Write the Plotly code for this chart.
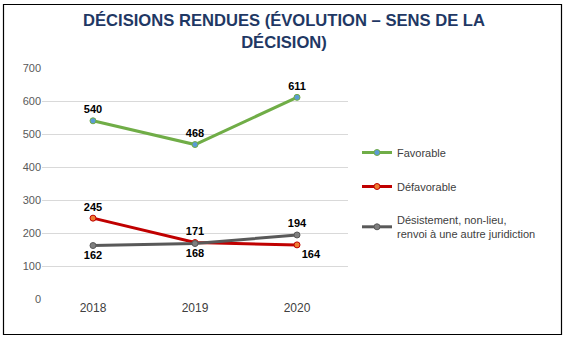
import plotly.graph_objects as go

years = ["2018", "2019", "2020"]
favorable = [540, 468, 611]
defavorable = [245, 171, 164]
desistement = [162, 168, 194]
names = ["Favorable", "Défavorable", "Désistement, non-lieu,<br>renvoi à une autre juridiction"]
title = "DÉCISIONS RENDUES (ÉVOLUTION – SENS DE LA<br>DÉCISION)"
yticks = [0, 100, 200, 300, 400, 500, 600, 700]

W, H = 566, 339
ml, mr, mt, mb = 42, 218, 68, 40

fig = go.Figure()
lab_font = dict(family="Liberation Sans, Arial", size=11, color="#000000", weight="bold")

fig.add_trace(go.Scatter(
    x=years, y=favorable, name=names[0], mode="lines+markers+text",
    line=dict(color="#70AD47", width=3),
    marker=dict(color="#5B9BD5", size=6, line=dict(color="#70AD47", width=1)),
    text=[str(v) for v in favorable], textposition=["top center", "top center", "top center"],
    textfont=lab_font, legendgroup="a"))
fig.add_trace(go.Scatter(
    x=years, y=defavorable, name=names[1], mode="lines+markers+text",
    line=dict(color="#C00000", width=3),
    marker=dict(color="#ED7D31", size=6, line=dict(color="#C00000", width=1)),
    text=[str(v) for v in defavorable], textposition=["top center", "top center", "bottom right"],
    textfont=lab_font, legendgroup="b"))
fig.add_trace(go.Scatter(
    x=years, y=desistement, name=names[2], mode="lines+markers+text",
    line=dict(color="#595959", width=3),
    marker=dict(color="#7F7F7F", size=6, line=dict(color="#595959", width=1)),
    text=[str(v) for v in desistement], textposition=["bottom center", "bottom center", "top center"],
    textfont=lab_font, legendgroup="c"))

pw = W - ml - mr
ph = H - mt - mb
def px2x(p): return (p - ml) / pw
def py2y(p): return (H - mb - p) / ph

fig.add_shape(type="rect", xref="paper", yref="paper",
              x0=px2x(3.5), x1=px2x(561.5), y0=py2y(334.5), y1=py2y(4.5),
              line=dict(color="#000000", width=1.2), fillcolor="rgba(0,0,0,0)", layer="below")

fig.add_annotation(text="<b>" + title + "</b>", xref="paper", yref="paper",
                   x=px2x(284), y=py2y(32), xanchor="center", yanchor="middle",
                   showarrow=False, align="center",
                   font=dict(family="Liberation Sans, Arial", size=16.6, color="#1F3864"))

fig.update_layout(
    width=W, height=H, margin=dict(l=ml, r=mr, t=mt, b=mb),
    paper_bgcolor="white", plot_bgcolor="white",
    xaxis=dict(type="category", range=[-0.5, 2.5], showgrid=False, showline=False, zeroline=False,
               ticks="", tickfont=dict(family="Liberation Sans, Arial", size=12, color="#404040")),
    yaxis=dict(range=[0, 700], tickvals=yticks, showgrid=True, gridcolor="#D9D9D9", gridwidth=1,
               zeroline=False, showline=False, ticks="",
               tickfont=dict(family="Liberation Sans, Arial", size=11, color="#595959")),
    legend=dict(x=px2x(357), y=py2y(138), xanchor="left", yanchor="top",
                font=dict(family="Liberation Sans, Arial", size=11, color="#404040"),
                tracegroupgap=15, itemwidth=30, bgcolor="rgba(0,0,0,0)"),
    showlegend=True,
)
fig.write_html("out.html")
